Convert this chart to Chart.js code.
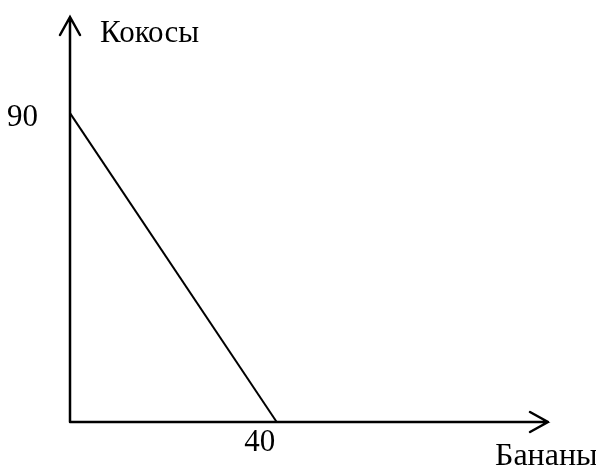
<!DOCTYPE html>
<html>
<head>
<meta charset="utf-8">
<script src="https://cdn.jsdelivr.net/npm/chart.js@4"></script>
<style>
  html, body { margin: 0; padding: 0; background: #fff; }
  #wrap { width: 596px; height: 465px; }
</style>
</head>
<body>
<div id="wrap"><canvas id="ppf"></canvas></div>
<script>
// Production possibilities: bananas vs coconuts
const bananas = [0, 40];
const coconuts = [90, 0];
const xTicks = [40];
const yTicks = [90];
const xTitle = 'Бананы';
const yTitle = 'Кокосы';

const FONT = "'Liberation Serif', 'Times New Roman', serif";

// draws the two arrowed axes and the axis titles
const axesPlugin = {
    id: 'arrowAxes',
    afterDraw(chart) {
        const ctx = chart.ctx;
        const xs = chart.scales.x, ys = chart.scales.y;
        const x0 = xs.getPixelForValue(0), y0 = ys.getPixelForValue(0);
        const xEnd = xs.right, yEnd = ys.top;
        ctx.save();
        ctx.strokeStyle = '#000';
        ctx.lineWidth = 2.5;
        ctx.lineCap = 'round';
        ctx.beginPath();
        ctx.moveTo(x0, y0); ctx.lineTo(x0, yEnd);
        ctx.moveTo(x0, y0); ctx.lineTo(xEnd, y0);
        // arrow heads
        ctx.moveTo(x0 - 10, yEnd + 18); ctx.lineTo(x0, yEnd); ctx.lineTo(x0 + 10, yEnd + 18);
        ctx.moveTo(xEnd - 18, y0 - 10); ctx.lineTo(xEnd, y0); ctx.lineTo(xEnd - 18, y0 + 10);
        ctx.stroke();

        ctx.fillStyle = '#000';
        ctx.textBaseline = 'alphabetic';
        ctx.textAlign = 'left';
        ctx.font = '31px ' + FONT;
        ctx.fillText(yTitle, x0 + 30, 42);
        // x title is a bit wider in the original, stretch it to ~96px
        ctx.font = '32px ' + FONT;
        const w = ctx.measureText(xTitle).width;
        const gap = Math.max(0, (96 - w) / (xTitle.length - 1));
        let cx = 495;
        for (const ch of xTitle) {
            ctx.fillText(ch, cx, 465);
            cx += ctx.measureText(ch).width + gap;
        }
        ctx.restore();
    }
};

// keep the scales from reserving room for label overflow
function noPad(s) {
    s.paddingTop = 0; s.paddingBottom = 0;
    s.paddingLeft = 0; s.paddingRight = 0;
}

new Chart(document.getElementById('ppf'), {
    type: 'scatter',
    data: {
        datasets: [{
            data: bananas.map((b, i) => ({ x: b, y: coconuts[i] })),
            showLine: true,
            borderColor: '#000',
            borderWidth: 2,
            pointRadius: 0,
            clip: false
        }]
    },
    options: {
        responsive: true,
        maintainAspectRatio: false,
        animation: false,
        layout: { padding: { top: 17, right: 48, left: 0, bottom: 0 } },
        plugins: { legend: { display: false }, tooltip: { enabled: false } },
        scales: {
            x: {
                type: 'linear',
                min: 0, max: 92.5,
                grid: { display: false, drawTicks: false },
                border: { display: false },
                afterFit: s => { s.height = 43; noPad(s); },
                afterBuildTicks: s => { s.ticks = xTicks.map(v => ({ value: v })); },
                ticks: {
                    autoSkip: false, maxRotation: 0,
                    padding: 2, labelOffset: -17,
                    color: '#000', font: { family: FONT, size: 31 }
                }
            },
            y: {
                type: 'linear',
                min: 0, max: 118,
                grid: { display: false, drawTicks: false },
                border: { display: false },
                afterFit: s => { s.width = 70; noPad(s); },
                afterBuildTicks: s => { s.ticks = yTicks.map(v => ({ value: v })); },
                ticks: {
                    autoSkip: false,
                    padding: 32, labelOffset: 5,
                    color: '#000', font: { family: FONT, size: 31 }
                }
            }
        }
    },
    plugins: [axesPlugin]
});
</script>
</body>
</html>
